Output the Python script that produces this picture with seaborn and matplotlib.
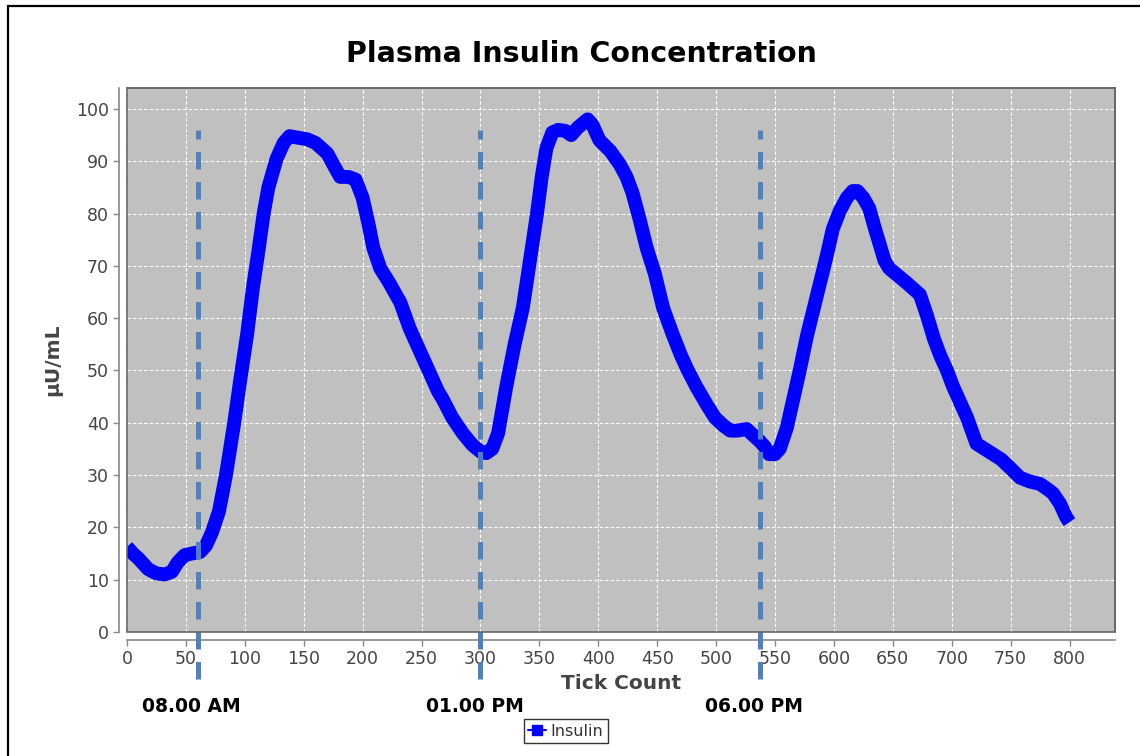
import pandas as pd
import matplotlib
matplotlib.use('Agg')
import matplotlib.pyplot as plt
from matplotlib.lines import Line2D
from matplotlib.patches import Rectangle
import seaborn as sns

# Insulin trace
tick = [0, 5, 10, 18, 25, 32, 38, 43, 49, 55, 62, 67, 72, 78, 84, 91, 96, 102, 107, 111,
        116, 120, 127, 133, 138, 145, 153, 160, 170, 176, 181, 188, 194, 200, 205, 209, 215,
        222, 232, 240, 246, 253, 260, 264, 268, 276, 285, 293, 300, 305, 310, 315, 322, 329,
        336, 342, 348, 352, 356, 361, 366, 372, 377, 383, 391, 395, 401, 410, 418, 424, 429,
        435, 441, 448, 455, 463, 470, 475, 483, 492, 499, 506, 512, 518, 526, 532, 537, 541,
        545, 550, 554, 560, 565, 571, 577, 583, 588, 594, 599, 605, 611, 616, 620, 625, 630,
        635, 639, 643, 647, 655, 662, 668, 673, 679, 685, 690, 696, 701, 707, 713, 717, 721,
        728, 735, 742, 749, 758, 766, 775, 782, 786, 792, 797, 800]
insulin = [16.3, 15, 14, 12, 11.2, 11, 11.5, 13.3, 14.7, 15, 15.3, 16.5, 19, 23, 30, 40, 48, 57, 66, 72,
           80, 85, 90.5, 93.5, 94.8, 94.5, 94.2, 93.5, 91.5, 89, 87, 87, 86.5, 83, 78, 73.5, 69.5,
           67, 63, 58, 55, 51.5, 48, 46, 44.5, 41, 38, 35.8, 34.5, 34.2, 35, 38, 47, 55,
           62, 71, 80, 87, 92.5, 95.5, 96, 95.8, 95, 96.5, 98, 97, 94, 92, 89.5, 87, 84,
           79, 73.5, 68.5, 62, 57, 53, 50.5, 47, 43.5, 41, 39.5, 38.5, 38.5, 38.8, 37.5, 36.5, 35.5,
           34, 34, 35, 39, 44, 50, 56.5, 62, 66.5, 72, 77, 80.5, 83, 84.3, 84.3, 83, 81,
           77, 74, 71, 69.5, 68, 66.7, 65.5, 64.5, 60.5, 56, 53, 50, 47, 44, 41, 38.5, 36,
           35, 34, 33, 31.5, 29.5, 28.8, 28.3, 27.2, 26.5, 24.5, 22, 21]

event_ticks = [60, 300, 537]
event_labels = ['08.00 AM', '01.00 PM', '06.00 PM']

sns.set_theme(style='whitegrid')
plt.rcParams['font.family'] = ['DejaVu Sans']

fig = plt.figure(figsize=(11.4, 7.56), dpi=100)
ax = fig.add_axes([127 / 1140, 1 - 632 / 756, 988 / 1140, 544 / 756])
ax.set_facecolor('#c0c0c0')

df = pd.DataFrame({'Tick Count': tick, 'Insulin': insulin})
sns.lineplot(data=df, x='Tick Count', y='Insulin', ax=ax, color='#0000ff',
             linewidth=10, solid_capstyle='butt', legend=False, zorder=3)

# meal markers
ax.vlines(event_ticks, -9, 96, colors='#4f81bd', linewidth=3.6,
          linestyles=(0, (3.5, 2.5)), clip_on=False, zorder=4)
for t, lab in zip(event_ticks, event_labels):
    ax.text(t - 5, -14.3, lab, ha='center', va='center', fontsize=13.5,
            fontweight='bold', color='black', clip_on=False)

ax.set_xlim(0, 838.6)
ax.set_ylim(0, 104)
ax.set_xticks(range(0, 801, 50))
ax.set_yticks(range(0, 101, 10))

ax.grid(True, color='white', linestyle=(0, (3, 2)), linewidth=0.8)
ax.set_axisbelow(True)

for side in ['top', 'right']:
    ax.spines[side].set_color('#666666')
    ax.spines[side].set_linewidth(1.2)
for side in ['left', 'bottom']:
    ax.spines[side].set_position(('outward', 6))
    ax.spines[side].set_color('#888888')
    ax.spines[side].set_linewidth(1.2)
ax.add_patch(Rectangle((0, 0), 1, 1, transform=ax.transAxes, fill=False,
                       edgecolor='#666666', linewidth=1.2, clip_on=False, zorder=5))

ax.tick_params(axis='both', which='major', bottom=True, left=True, length=4, width=1,
               color='#888888', labelcolor='#444444', labelsize=12.5, pad=3)

ax.set_xlabel('Tick Count', fontsize=14.5, fontweight='bold', color='#444444', labelpad=4)
ax.set_ylabel('µU/mL', fontsize=14.5, fontweight='bold', color='#444444', labelpad=10)

fig.text(581 / 1140, 1 - 54 / 756, 'Plasma Insulin Concentration', ha='center', va='center',
         fontsize=20.5, fontweight='bold', color='black')

handle = Line2D([], [], color='#0000ff', marker='s', markersize=7, linewidth=1.5)
leg = fig.legend(handles=[handle], labels=['Insulin'], loc='center',
                 bbox_to_anchor=(566 / 1140, 1 - 731 / 756), frameon=True, fancybox=False,
                 fontsize=11.5, handlelength=1.1, borderpad=0.3, handletextpad=0.3)
leg.get_frame().set_edgecolor('black')
leg.get_frame().set_linewidth(1)
for txt in leg.get_texts():
    txt.set_color('#333333')

# outer chart border (left and top)
fig.add_artist(Line2D([8 / 1140, 8 / 1140], [0, 1 - 6 / 756], color='black', lw=1.6,
                      transform=fig.transFigure))
fig.add_artist(Line2D([8 / 1140, 1], [1 - 6 / 756, 1 - 6 / 756], color='black', lw=1.6,
                      transform=fig.transFigure))

fig.savefig('out.png', dpi=100)
